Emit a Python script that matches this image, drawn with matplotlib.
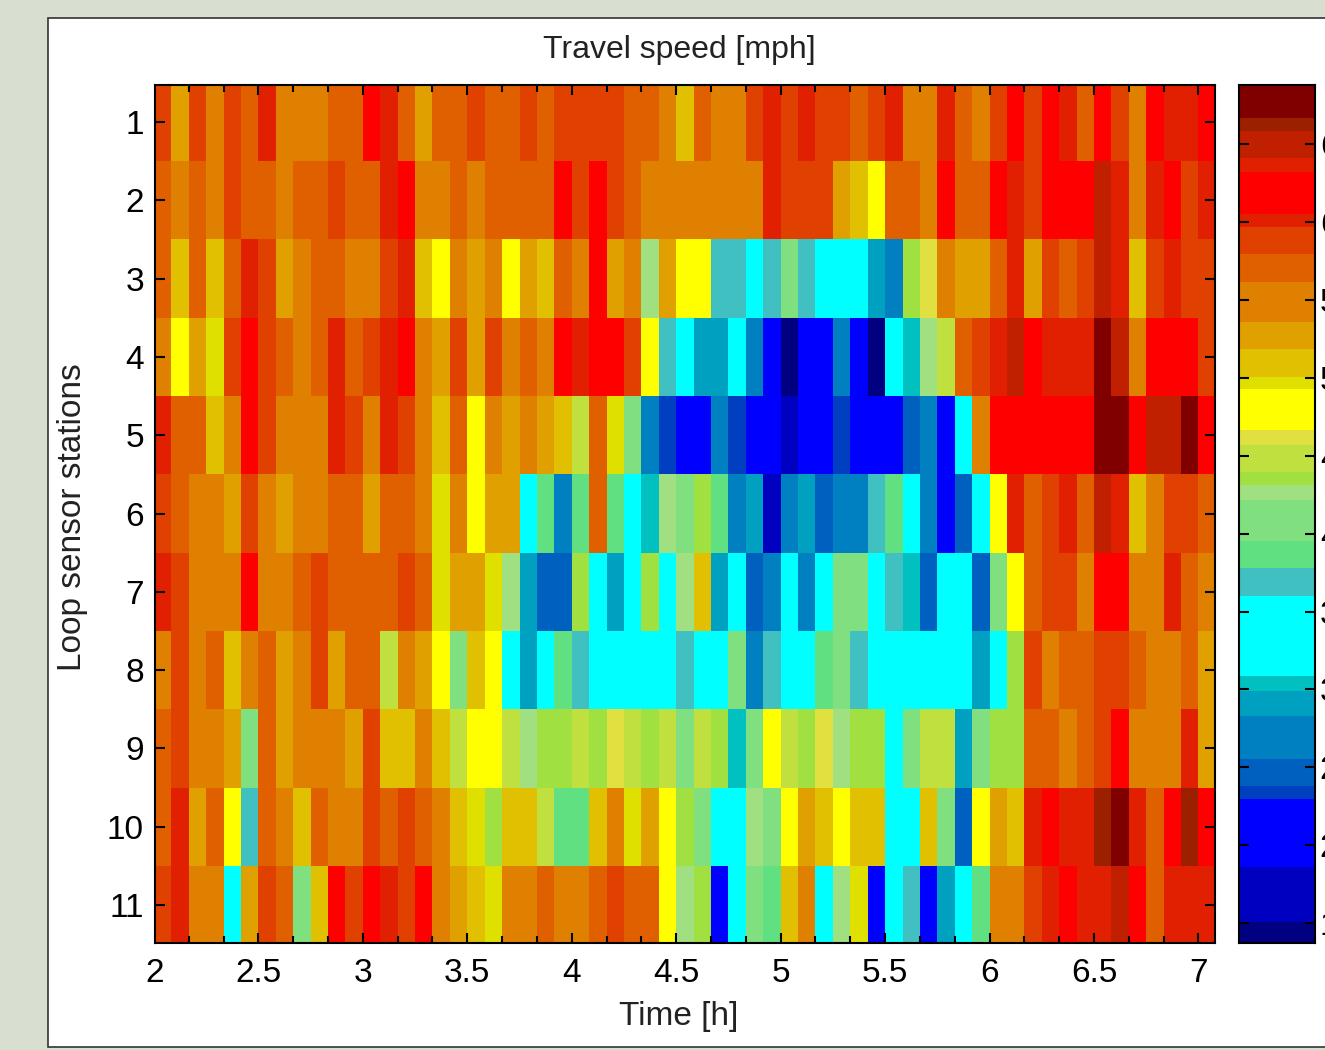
import numpy as np
import matplotlib
matplotlib.use("Agg")
import matplotlib.pyplot as plt
from matplotlib.colors import ListedColormap, BoundaryNorm
from matplotlib.patches import Rectangle
from matplotlib.ticker import MultipleLocator

plt.rcParams['font.family'] = ['Liberation Sans', 'DejaVu Sans']

# travel speed per 5 min bin [mph], one list per loop sensor station
station_1 = [59,53,59,55,59,57,60,55,55,55,57,57,62,60,57,53,57,57,59,57,57,59,57,59,59,59,59,57,57,55,51,
             57,55,55,59,60,59,60,59,59,57,59,60,55,55,60,57,55,59,62,59,62,60,57,62,59,55,62,60,60,62]
station_2 = [57,55,57,55,59,57,57,55,57,57,59,57,57,60,62,55,55,57,55,57,57,57,57,62,59,62,59,57,55,55,55,
             55,55,55,55,60,59,59,59,53,51,48,57,57,55,62,57,57,62,60,59,62,62,62,65,60,55,60,62,59,60]
station_3 = [57,51,57,51,57,60,59,53,55,57,57,55,55,59,60,51,48,55,53,55,48,53,51,57,55,62,53,55,42.6,53,48,
             48,37,37,33,37,41,37,33,33,33,29,27,43.5,46,55,53,53,57,60,53,59,57,59,65,60,51,59,60,59,59]
station_4 = [55,48,53,50,59,62,59,57,55,57,60,57,59,60,62,55,53,59,53,59,55,57,55,62,60,62,62,59,48,37,33,
             29,29,33,27,21,14,21,21,27,21,14,33,30.4,42.6,45,57,59,60,65,62,60,60,60,68,65,55,62,62,62,59]
station_5 = [60,57,57,51,55,62,59,55,55,55,60,59,55,60,59,55,51,57,48,55,53,55,53,51,45,57,50,41,27,23.4,21,
             21,27,23.4,21,21,17,21,21,23.4,21,21,21,25,27,21,33,55,62,62,62,62,62,62,68,68,62,65,65,68,62]
station_6 = [59,57,55,55,53,59,55,53,55,55,57,57,53,57,57,55,50,55,48,53,53,33,39,27,39,57,39,33,30.4,42.6,41,
             43.5,39,27,29,17,27,29,25,27,27,37,39,33,27,21,25,33,48,60,57,59,60,57,65,60,51,55,59,59,57]
station_7 = [60,59,55,55,55,62,55,55,57,59,57,57,57,57,59,57,50,53,53,50,42.6,29,25,25,43.5,33,29,33,43.5,33,42.6,
             51,29,33,25,27,33,27,33,41,41,33,37,30.4,25,33,33,25,41,48,57,59,59,55,62,62,55,55,60,57,55]
station_8 = [55,59,55,57,51,55,57,53,55,59,53,57,57,45,55,53,48,41,51,48,33,29,33,39,37,33,33,33,33,33,37,
             33,33,41,27,37,33,33,39,41,37,33,33,33,33,33,33,29,33,43.5,59,55,57,57,59,59,57,55,55,57,53]
station_9 = [57,59,55,55,53,41,57,53,55,55,55,53,59,51,51,55,51,45,48,48,45,42.6,43.5,43.5,45,43.5,46,45,43.5,45,41,
             45,43.5,30.4,41,48,45,43.5,46,42.6,43.5,43.5,33,41,45,45,29,41,43.5,43.5,57,57,55,57,59,62,55,55,55,60,53]
station_10 = [57,60,53,57,48,37,57,55,51,57,55,55,59,57,59,57,55,51,50,43.5,51,51,45,39,39,51,55,50,53,48,43.5,
              41,33,33,42.6,41,48,53,51,48,51,51,33,33,51,41,25,48,53,51,60,62,60,60,66,68,60,57,62,66,62]
station_11 = [59,60,55,55,33,53,59,57,41,51,62,59,62,60,59,62,55,53,51,50,55,55,57,55,55,57,59,57,57,48,42.6,
              43.5,21,33,41,39,51,55,33,42.6,50,21,33,37,21,29,33,39,55,55,59,60,62,60,60,65,62,57,60,60,60]

speed = np.array([station_1, station_2, station_3, station_4, station_5, station_6,
                  station_7, station_8, station_9, station_10, station_11])

# the reduced palette of the colorbar, low to high speed
band_edges = [13.72, 15.06, 18.60, 22.96, 23.80, 25.53, 28.29, 29.90, 30.86, 36.00,
              37.80, 39.53, 42.17, 43.13, 43.97, 45.70, 46.66, 49.30, 50.07, 51.87,
              53.60, 56.17, 57.97, 59.70, 60.54, 63.23, 64.13, 65.87, 66.70, 68.82]
band_colors = ['#000080', '#0000c0', '#0000ff', '#0040c0', '#0060c0', '#0080c0', '#00a0c0',
               '#00c0c0', '#00ffff', '#40c0c0', '#60e080', '#80e080', '#a0e080', '#a0e040',
               '#c0e040', '#e0e040', '#ffff00', '#e0e000', '#e0c000', '#e0a000', '#e08000',
               '#e06000', '#e04000', '#e02000', '#ff0000', '#e02000', '#c02000', '#9c2000',
               '#800000']
cbar_ticks = [15, 20, 25, 30, 35, 40, 45, 50, 55, 60, 65]

W, H = 1325, 1050
cmap = ListedColormap(band_colors)
norm = BoundaryNorm(band_edges, cmap.N)


def px_axes(fig, x0, y0, x1, y1):
    # axes from pixel box, y counted from the top
    return fig.add_axes([x0 / W, 1 - y1 / H, (x1 - x0) / W, (y1 - y0) / H])


fig = plt.figure(figsize=(W / 100, H / 100), dpi=100, facecolor='#d8dfd0')
fig.add_artist(Rectangle((48 / W, 1 - 1047 / H), 1.0, 1029 / H, transform=fig.transFigure,
                         facecolor='white', edgecolor='#333333', linewidth=1.2, zorder=-1))

ax = px_axes(fig, 155, 85, 1215, 943)
x_edges = 2 + np.arange(speed.shape[1] + 1) / 12
y_edges = np.arange(speed.shape[0] + 1) + 0.5
ax.pcolormesh(x_edges, y_edges, speed, cmap=cmap, norm=norm)
# frame crops the outer cells a little, as in the original
ax.set_ylim(11.485, 0.527)
ax.set_xlim(2.005, 7.079)
ax.set_xticks(np.arange(2.5, 7.5, 0.5))
ax.set_xticklabels(['2.5', '3', '3.5', '4', '4.5', '5', '5.5', '6', '6.5', '7'])
ax.xaxis.set_minor_locator(MultipleLocator(0.5 / 3))
ax.set_yticks(np.arange(1, 12))
ax.tick_params(axis='both', which='major', direction='in', top=True, right=True,
               labelsize=24, length=7.5, width=1.5, pad=11)
ax.tick_params(axis='x', which='minor', direction='in', top=True, length=5, width=1.5)
ax.tick_params(axis='y', which='major', pad=8)
for s in ax.spines.values():
    s.set_linewidth(1.5)

fig.text(155 / W, 1 - 973 / H, '2', fontsize=24, ha='center', va='center')
fig.text(679 / W, 1 - 1016 / H, 'Time [h]', fontsize=24, ha='center', va='center', color='#222222')
fig.text(679 / W, 1 - 50 / H, 'Travel speed [mph]', fontsize=23, ha='center', va='center', color='#222222')
fig.text(73 / W, 1 - 517 / H, 'Loop sensor stations', fontsize=24, rotation=90,
         ha='center', va='center', color='#222222')

cax = px_axes(fig, 1239, 85, 1315, 943)
band_mid = (np.array(band_edges[:-1]) + np.array(band_edges[1:])) / 2
cax.pcolormesh([0, 1], band_edges, band_mid[:, None], cmap=cmap, norm=norm)
cax.set_ylim(band_edges[0], band_edges[-1])
cax.set_xticks([])
cax.set_yticks(cbar_ticks)
cax.tick_params(axis='y', direction='in', left=True, right=True, labelleft=False, labelright=True,
                labelsize=24, length=7.5, width=1.5, pad=3.5)
for s in cax.spines.values():
    s.set_linewidth(1.5)

fig.savefig('out.png', dpi=100, facecolor=fig.get_facecolor())
